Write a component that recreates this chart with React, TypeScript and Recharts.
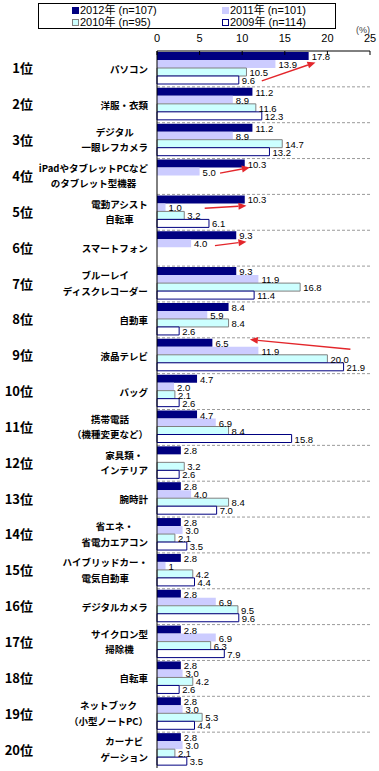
import { BarChart, Bar, XAxis, YAxis, CartesianGrid, Legend } from "recharts";

const CATEGORIES = [
  "パソコン",
  "洋服・衣類",
  "デジタル\n一眼レフカメラ",
  "iPadやタブレットPCなど\nのタブレット型機器",
  "電動アシスト\n自転車",
  "スマートフォン",
  "ブルーレイ\nディスクレコーダー",
  "自動車",
  "液晶テレビ",
  "バッグ",
  "携帯電話\n（機種変更など）",
  "家具類・\nインテリア",
  "腕時計",
  "省エネ・\n省電力エアコン",
  "ハイブリッドカー・\n電気自動車",
  "デジタルカメラ",
  "サイクロン型\n掃除機",
  "自転車",
  "ネットブック\n（小型ノートPC）",
  "カーナビ\nゲーション",
];

const Y2012 = [17.8, 11.2, 11.2, 10.3, 10.3, 9.3, 9.3, 8.4, 6.5, 4.7, 4.7, 2.8, 2.8, 2.8, 2.8, 2.8, 2.8, 2.8, 2.8, 2.8];
const Y2011 = [13.9, 8.9, 8.9, 5.0, 1.0, 4.0, 11.9, 5.9, 11.9, 2.0, 6.9, null, 4.0, 3.0, 1, 6.9, 6.9, 3.0, 3.0, 3.0];
const Y2010 = [10.5, 11.6, 14.7, null, 3.2, null, 16.8, 8.4, 20.0, 2.1, 8.4, 3.2, 8.4, 2.1, 4.2, 9.5, 6.3, 4.2, 5.3, 2.1];
const Y2009 = [9.6, 12.3, 13.2, null, 6.1, null, 11.4, 2.6, 21.9, 2.6, 15.8, 2.6, 7.0, 3.5, 4.4, 9.6, 7.9, 2.6, 4.4, 3.5];

const X_TICKS = [0, 5, 10, 15, 20, 25];

// labels printed differently from the one-decimal default
const LABEL_OVERRIDES: Record<string, string> = { "y2011:ハイブリッドカー・\n電気自動車": "1" };

// red trend arrows: [value, bar slot] from -> to
const ARROWS = [
  { category: "パソコン", from: [12.3, 3.1], to: [18.6, 0.8] },
  { category: "iPadやタブレットPCなど\nのタブレット型機器", from: [7.4, 1.2], to: [10.9, 0.5] },
  { category: "電動アシスト\n自転車", from: [5.6, 1.1], to: [10.5, 0.8] },
  { category: "スマートフォン", from: [6.8, 1.3], to: [10.5, 0.8] },
  { category: "液晶テレビ", from: [22.7, 0.8], to: [10.9, -0.4] },
];

const SERIES = [
  { key: "y2012", name: "2012年 (n=107)", fill: "#000080", stroke: "none" },
  { key: "y2011", name: "2011年 (n=101)", fill: "#CCCCFF", stroke: "none" },
  { key: "y2010", name: "2010年 (n=95)", fill: "#CCFFFF", stroke: "#808080" },
  { key: "y2009", name: "2009年 (n=114)", fill: "#FFFFFF", stroke: "#000080" },
];

const data = CATEGORIES.map((name, i) => ({
  name,
  y2012: Y2012[i],
  y2011: Y2011[i],
  y2010: Y2010[i],
  y2009: Y2009[i],
}));

const W = 379;
const H = 771;
const MARGIN = { top: 0, right: 9, bottom: 3, left: 0 };
const LEGEND_H = 30;
const XAXIS_H = 21;
const PLOT_TOP = MARGIN.top + LEGEND_H + XAXIS_H;
const PLOT_H = H - PLOT_TOP - MARGIN.bottom;

const JP = '"Noto Sans CJK JP", sans-serif';
const LATIN = '"Liberation Sans", Arial, "Noto Sans CJK JP", sans-serif';

let measureCtx: CanvasRenderingContext2D | null = null;
function textWidth(s: string, font: string) {
  if (!measureCtx && typeof document !== "undefined") {
    measureCtx = document.createElement("canvas").getContext("2d");
  }
  if (!measureCtx) return s.length * 9.5;
  measureCtx.font = font;
  return measureCtx.measureText(s).width;
}

function CategoryTick({ x, y, payload }: any) {
  const i = CATEGORIES.indexOf(payload.value);
  const lines = String(payload.value).split("\n");
  const font = `bold 9.5px "Noto Sans CJK JP"`;
  const w = Math.max(...lines.map((l) => textWidth(l, font)));
  const lineH = 15.5;
  const y0 = y - ((lines.length - 1) * lineH) / 2 - (lines.length > 1 ? 1 : 0);
  return (
    <g>
      <text x={x - 115} y={y - 1} textAnchor="end" dominantBaseline="central" fontFamily={JP} fontSize={13} fontWeight={600} fill="#000">
        {`${i + 1}位`}
      </text>
      {lines.map((l, k) => (
        <text key={k} x={x - w / 2} y={y0 + k * lineH} textAnchor="middle" dominantBaseline="central" fontFamily={JP} fontSize={9.5} fontWeight={700} fill="#000">
          {l}
        </text>
      ))}
    </g>
  );
}

function Arrow({ x1, y1, x2, y2 }: { x1: number; y1: number; x2: number; y2: number }) {
  const dx = x2 - x1;
  const dy = y2 - y1;
  const len = Math.sqrt(dx * dx + dy * dy) || 1;
  const ux = dx / len;
  const uy = dy / len;
  const head = 8;
  const half = 3.5;
  const bx = x2 - ux * head;
  const by = y2 - uy * head;
  const pts = `${x2},${y2} ${bx - uy * half},${by + ux * half} ${bx + uy * half},${by - ux * half}`;
  return (
    <g>
      <line x1={x1} y1={y1} x2={bx} y2={by} stroke="#E3262B" strokeWidth={1.4} />
      <polygon points={pts} fill="#E3262B" />
    </g>
  );
}

// which category a label belongs to (label indexes skip empty bars)
function categoryOf(props: any) {
  if (props.payload?.name) return props.payload.name;
  const row = Math.floor((props.y + props.height / 2 - PLOT_TOP) / (PLOT_H / CATEGORIES.length));
  return CATEGORIES[Math.max(0, Math.min(CATEGORIES.length - 1, row))];
}

function makeValueLabel(key: string) {
  return (props: any) => {
    const { x, y, width, height, value, index } = props;
    if (value == null || width == null) return null;
    const cat = categoryOf(props);
    const text = LABEL_OVERRIDES[`${key}:${cat}`] ?? Number(value).toFixed(1);
    const arrow = key === "y2012" ? ARROWS.find((a) => a.category === cat) : undefined;
    let arrowEl = null;
    if (arrow) {
      const perUnit = width / value;
      const px = (v: number) => x + v * perUnit;
      const py = (s: number) => y + (s + 0.5) * height;
      arrowEl = <Arrow x1={px(arrow.from[0])} y1={py(arrow.from[1])} x2={px(arrow.to[0])} y2={py(arrow.to[1])} />;
    }
    return (
      <g key={`${key}-${index}`}>
        <text x={x + width + 3} y={y + height / 2 + 0.5} dominantBaseline="central" fontFamily={LATIN} fontSize={9.5} fill="#000">
          {text}
        </text>
        {arrowEl}
      </g>
    );
  };
}

function LegendBox() {
  return (
    <div style={{ position: "relative", width: W, height: LEGEND_H, fontFamily: LATIN, fontSize: 11, color: "#000" }}>
      <div style={{ position: "absolute", left: 38, top: 3, width: 298, height: 26, border: "1px solid #000", boxSizing: "border-box" }} />
      {SERIES.map((s, i) => (
        <div
          key={s.key}
          style={{ position: "absolute", left: i % 2 ? 222 : 72, top: i < 2 ? 4 : 16, display: "flex", alignItems: "center", lineHeight: "13px", whiteSpace: "nowrap" }}
        >
          <span
            style={{
              display: "inline-block",
              width: 7,
              height: 7,
              marginRight: 1,
              background: s.fill,
              border: s.stroke === "none" ? "none" : `1px solid ${s.stroke}`,
              boxSizing: "border-box",
            }}
          />
          {s.name}
        </div>
      ))}
      <div style={{ position: "absolute", left: 356, top: 25, fontSize: 9, color: "#444" }}>(%)</div>
    </div>
  );
}

// dashed separators between categories
function rowBoundaries({ yAxis, offset }: any) {
  const scale = yAxis?.scale;
  if (typeof scale === "function" && typeof scale.bandwidth === "function") {
    const pts = CATEGORIES.slice(1).map((c) => scale(c));
    if (pts.every((p: any) => Number.isFinite(p))) return pts;
  }
  const step = offset.height / CATEGORIES.length;
  return CATEGORIES.slice(1).map((_, i) => offset.top + step * (i + 1));
}

export default function App() {
  return (
    <div style={{ position: "absolute", left: 0, top: 0, background: "#fff" }}>
      <BarChart width={W} height={H} data={data} layout="vertical" margin={MARGIN} barCategoryGap={1} barGap={0}>
        <Legend
          verticalAlign="top"
          align="left"
          content={() => <LegendBox />}
          wrapperStyle={{ left: 0, top: 0, width: W, height: LEGEND_H }}
        />
        <CartesianGrid vertical={false} stroke="#9a9a9a" strokeDasharray="3 2" horizontalCoordinatesGenerator={rowBoundaries} />
        <XAxis
          type="number"
          orientation="top"
          domain={[0, 25]}
          ticks={X_TICKS}
          height={XAXIS_H}
          axisLine={{ stroke: "#000" }}
          tickLine={{ stroke: "#000" }}
          tickSize={-4}
          tickMargin={13}
          tick={{ fill: "#000", fontSize: 11, fontFamily: LATIN }}
        />
        <YAxis
          type="category"
          dataKey="name"
          width={157}
          interval={0}
          axisLine={{ stroke: "#000" }}
          tickLine={false}
          tickSize={0}
          tickMargin={9}
          tick={<CategoryTick />}
        />
        {SERIES.map((s) => (
          <Bar
            key={s.key}
            dataKey={s.key}
            name={s.name}
            fill={s.fill}
            stroke={s.stroke}
            strokeWidth={1}
            isAnimationActive={false}
            label={makeValueLabel(s.key)}
          />
        ))}
      </BarChart>
    </div>
  );
}
